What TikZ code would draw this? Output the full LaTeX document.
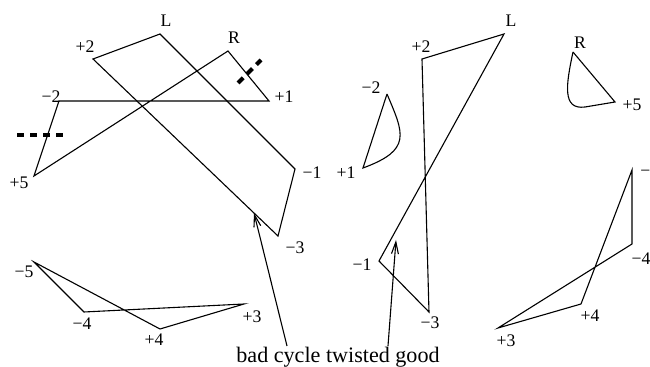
\documentclass[tikz,border=0pt]{standalone}
\usepackage{fontspec}
\setmainfont{Liberation Serif}
\usetikzlibrary{arrows.meta}

\begin{document}
\begin{tikzpicture}[
    x=0.0159cm, y=-0.0159cm,
    edge/.style={line width=0.5pt, line join=miter},
    lbl/.style={font=\fontsize{8}{9.6}\selectfont, inner sep=0pt},
    cut/.style={line width=1.8pt, dash pattern=on 3.3pt off 2.6pt},
    arrow/.style={line width=0.5pt, -{Straight Barb[length=1.9mm, width=1.1mm]}},
]
    \useasboundingbox (0,0) rectangle (650,367);

    % left picture: vertices
    \coordinate (aL) at (160,34);
    \coordinate (ap2) at (93,59);
    \coordinate (aR) at (228,51);
    \coordinate (ap1) at (269,101);
    \coordinate (am2) at (59,101);
    \coordinate (ap5) at (34,176);
    \coordinate (am1) at (295,169);
    \coordinate (am3) at (278,236);
    \coordinate (am5) at (34,262);
    \coordinate (am4) at (84,312);
    \coordinate (ap4) at (160,329);
    \coordinate (ap3) at (244,304);

    \draw [edge] (ap2) -- (aL) -- (am1) -- (am3) -- cycle;
    \draw [edge] (aR) -- (ap1) -- (am2) -- (ap5) -- cycle;
    \draw [edge] (am5) -- (am4) -- (ap3) -- (ap4) -- cycle;

    \node (laL) [lbl] at (166,21) {L};
    \node (lap2) [lbl] at (85,47) {+2};
    \node (laR) [lbl] at (234,38) {R};
    \node (lap1) [lbl] at (284,97) {+1};
    \node (lam2) [lbl] at (51,97) {−2};
    \node (lap5) [lbl] at (19,183) {+5};
    \node (lam1) [lbl] at (312,173) {−1};
    \node (lam3) [lbl] at (295,248) {−3};
    \node (lam5) [lbl] at (24,272) {−5};
    \node (lam4) [lbl] at (82,324) {−4};
    \node (lap4) [lbl] at (154,340) {+4};
    \node (lap3) [lbl] at (252,317) {+3};

    % cuts
    \coordinate (c1a) at (238,83);
    \coordinate (c1b) at (261,60);
    \coordinate (c2a) at (17,135);
    \coordinate (c2b) at (64,135);
    \draw [cut] (c1a) -- (c1b);
    \draw [cut] (c2a) -- (c2b);

    % right picture: vertices
    \coordinate (bL) at (504,34);
    \coordinate (bp2) at (422,59);
    \coordinate (bm1) at (379,261);
    \coordinate (bm3) at (429,312);
    \coordinate (bm2) at (387,94);
    \coordinate (bp1) at (363,168);
    \coordinate (bR) at (573,52);
    \coordinate (bp5) at (615,102);
    \coordinate (bm5) at (632,170);
    \coordinate (bm4) at (632,244);
    \coordinate (bp4) at (581,304);
    \coordinate (bp3) at (498,328);

    \draw [edge] (bp2) -- (bL) -- (bm1) -- (bm3) -- cycle;
    \draw [edge] (bm2) -- (bp1) .. controls (412,150) and (404,134) .. (bm2);
    \draw [edge] (bR) -- (bp5) -- (585,107) .. controls (562,110) and (566,85) .. (bR);
    \draw [edge] (bm5) -- (bm4) -- (bp3) -- (bp4) -- cycle;

    \node (lbL) [lbl] at (511,21) {L};
    \node (lbp2) [lbl] at (421,47) {+2};
    \node (lbm2) [lbl] at (371,88) {−2};
    \node (lbp1) [lbl] at (346,173) {+1};
    \node (lbR) [lbl] at (580,43) {R};
    \node (lbp5) [lbl] at (632,105) {+5};
    \node (lbm1) [lbl] at (362,265) {−1};
    \node (lbm3) [lbl] at (430,323) {−3};
    \node (lbm5) [lbl, anchor=west] at (640,173) {−};
    \node (lbm4) [lbl] at (641,259) {−4};
    \node (lbp4) [lbl] at (590,316) {+4};
    \node (lbp3) [lbl] at (506,341) {+3};

    % caption and pointers
    \node (caption) [font=\fontsize{10}{12}\selectfont, inner sep=0pt, anchor=base] at (338,363) {bad cycle twisted good};
    \coordinate (badfoot) at (287,346);
    \coordinate (badtip) at (254,213);
    \coordinate (goodfoot) at (388,346);
    \coordinate (goodtip) at (396,240);
    \draw [arrow] (badfoot) -- (badtip);
    \draw [arrow] (goodfoot) -- (goodtip);

\end{tikzpicture}
\end{document}
